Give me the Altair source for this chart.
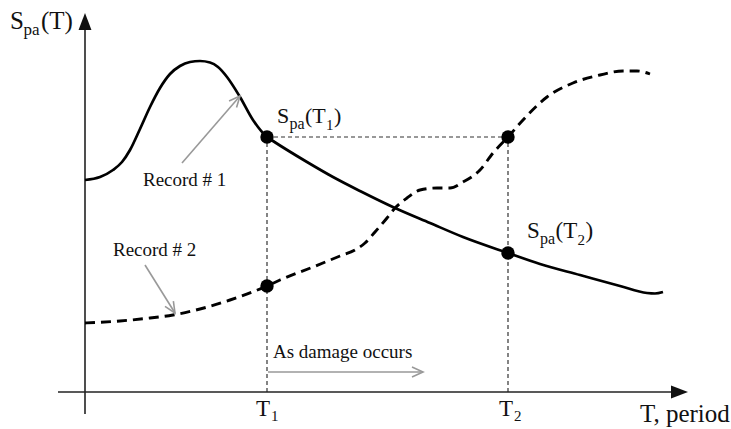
import math
import altair as alt
import pandas as pd

# ---- data (schematic units: 1 unit ~ 1 px from the origin) ----
rec1_T = [0, 15, 28, 37, 45, 55, 65, 75, 85, 95, 105, 115, 125, 133, 142, 155, 168, 182,
          188, 222, 248, 275, 310, 345, 378, 423, 455, 495, 535, 562, 570, 578]
rec1_S = [212, 215, 222, 230, 242, 263, 285, 304, 318, 326, 330, 331, 329.5, 325, 315, 295, 272, 255,
          251, 230, 215, 201, 184, 169, 155, 139, 128, 117, 106, 99, 98.5, 100]

rec2_T = [0, 35, 65, 88, 115, 145, 182, 195, 228, 255, 270, 280, 290, 302, 310, 322, 335,
          352, 365, 378, 395, 408, 423, 438, 462, 488, 515, 538, 552, 565]
rec2_S = [69, 71, 74, 77, 83, 92, 106, 112, 125, 136, 142, 149, 160, 174, 184, 194, 202,
          204, 204, 210, 222, 239, 255, 272, 295, 309, 317, 321, 321, 318]

T1, T2 = 182, 423
dot_T = [T1, T2, T1, T2]
dot_S = [255, 255, 106, 139]

# guide lines (dashed): x, y, x2, y2
guide_x = [T1, T1, T2]
guide_y = [255, 0, 0]
guide_x2 = [T2, T1, T2]
guide_y2 = [255, 255, 255]

# axis lines
axis_x = [-27, 0]
axis_y = [0, -22]
axis_x2 = [588, 0]
axis_y2 = [0, 362]
head_x = [594.5, 0]
head_y = [0, 370.5]
head_angle = [90, 0]

# gray annotation arrows
arr_x = [97, 60, 183]
arr_y = [229, 127, 20]
arr_x2 = [155, 90, 338]
arr_y2 = [296, 79, 20]

# text pieces
txt = ["S", "pa", "(T)",
       "S", "pa", "(T", "1", ")",
       "S", "pa", "(T", "2", ")",
       "T", "1", "T", "2", "T, period",
       "Record # 1", "Record # 2", "As damage occurs"]
txt_x = [-75, -61.5, -44,
         192, 204.5, 220, 241, 249,
         442, 455, 470.5, 492.5, 500.5,
         171, 186, 414, 429, 555,
         58, 28, 188]
txt_y = [363, 357, 363,
         269, 263, 269, 262, 269,
         154, 148, 154, 147, 154,
         -24, -29, -24, -29, -30,
         206, 136, 34]
txt_size = [25, 17, 25,
            22, 16, 22, 15, 22,
            23, 16, 23, 15, 23,
            23, 15, 23, 15, 25,
            19, 19, 19]

# ---- chart ----
FONT = "Liberation Serif, Times New Roman, Times, serif"
xs = alt.Scale(domain=[-85, 646], nice=False, zero=False)
ys = alt.Scale(domain=[-37, 392], nice=False, zero=False)
X = lambda f: alt.X(f, scale=xs, axis=None)
Y = lambda f: alt.Y(f, scale=ys, axis=None)

df1 = pd.DataFrame({"T": rec1_T, "S": rec1_S})
df2 = pd.DataFrame({"T": rec2_T, "S": rec2_S})
dots = pd.DataFrame({"T": dot_T, "S": dot_S})
guides = pd.DataFrame({"x": guide_x, "y": guide_y, "x2": guide_x2, "y2": guide_y2})
axes = pd.DataFrame({"x": axis_x, "y": axis_y, "x2": axis_x2, "y2": axis_y2})
heads = pd.DataFrame({"x": head_x, "y": head_y, "a": head_angle})
arrows = pd.DataFrame({"x": arr_x, "y": arr_y, "x2": arr_x2, "y2": arr_y2})
arrows["a"] = [
    math.degrees(math.atan2(-(b2 - b1), a2 - a1)) % 360
    for a1, b1, a2, b2 in zip(arr_x, arr_y, arr_x2, arr_y2)
]
texts = pd.DataFrame({"t": txt, "x": txt_x, "y": txt_y, "s": txt_size})

axis_lines = alt.Chart(axes).mark_rule(color="#222", strokeWidth=1.6).encode(
    x=X("x:Q"), y=Y("y:Q"), x2="x2:Q", y2="y2:Q")
axis_heads = alt.Chart(heads).mark_point(
    shape="M0,-1L0.76,1L-0.76,1Z", filled=True, size=289, color="#111", opacity=1
).encode(x=X("x:Q"), y=Y("y:Q"), angle=alt.Angle("a:Q", scale=None))

guide_lines = alt.Chart(guides).mark_rule(
    color="#333", strokeWidth=1.2, strokeDash=[4, 3]
).encode(x=X("x:Q"), y=Y("y:Q"), x2="x2:Q", y2="y2:Q")

line1 = alt.Chart(df1).mark_line(color="black", strokeWidth=2.7, interpolate="monotone").encode(
    x=X("T:Q"), y=Y("S:Q"), order="T:Q")
line2 = alt.Chart(df2).mark_line(color="black", strokeWidth=2.9, strokeDash=[10, 6],
                                 interpolate="monotone").encode(
    x=X("T:Q"), y=Y("S:Q"), order="T:Q")

dot_layer = alt.Chart(dots).mark_circle(color="black", size=180, opacity=1).encode(
    x=X("T:Q"), y=Y("S:Q"))

arrow_lines = alt.Chart(arrows).mark_rule(color="#999", strokeWidth=1.6).encode(
    x=X("x:Q"), y=Y("y:Q"), x2="x2:Q", y2="y2:Q")
arrow_heads = alt.Chart(arrows).mark_point(
    shape="M-1,-0.45L0,0L-1,0.45", filled=False, size=484, color="#999",
    strokeWidth=1.6, opacity=1
).encode(x=X("x2:Q"), y=Y("y2:Q"), angle=alt.Angle("a:Q", scale=None))

labels = alt.Chart(texts).mark_text(
    font=FONT, align="left", baseline="alphabetic", color="#111"
).encode(x=X("x:Q"), y=Y("y:Q"), text="t:N", size=alt.Size("s:Q", scale=None))

chart = alt.layer(
    guide_lines, axis_lines, axis_heads, line2, line1, dot_layer,
    arrow_lines, arrow_heads, labels
).properties(
    width=731, height=429,
    autosize=alt.AutoSizeParams(type="none"),
    padding=0,
).configure_view(stroke=None)

chart.save("out.html", embed_options={"renderer": "svg", "actions": False})
